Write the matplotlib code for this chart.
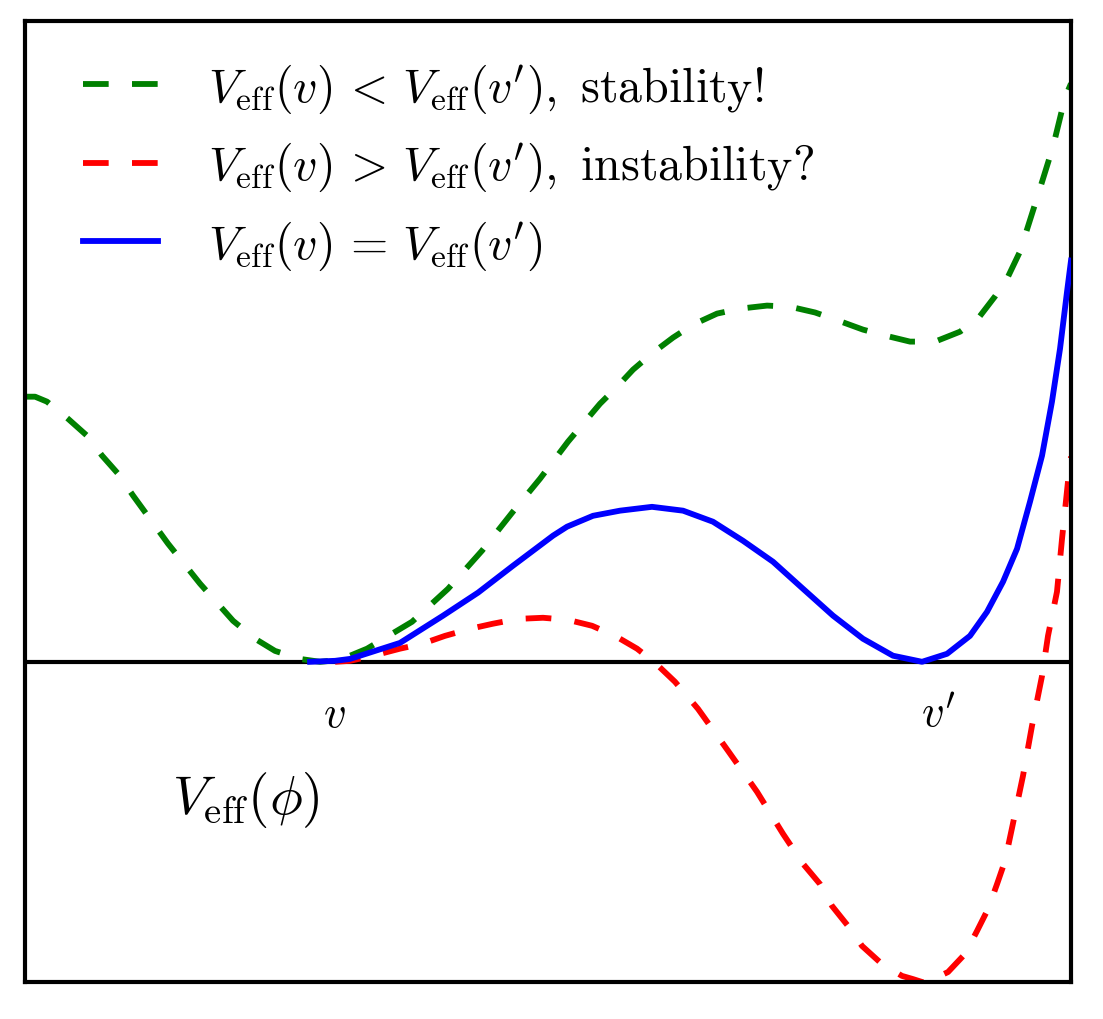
"""
有效势 V_eff(φ) 的三种情形：稳定 / 不稳定 / 简并
"""

import matplotlib
matplotlib.use('Agg')
import matplotlib.pyplot as plt

plt.rcParams['mathtext.fontset'] = 'cm'
plt.rcParams['font.family'] = ['DejaVu Serif']

# ---- 曲线数据（从图上读取，x 归一化到 [0,1]，y 以 v 处为 0） ----
x_green = [0.0000, 0.0096, 0.0210, 0.0411, 0.0593, 0.0736, 0.0889, 0.1033, 0.1367, 0.1673,
           0.1989, 0.2199, 0.2390, 0.2629, 0.2820, 0.3011, 0.3270, 0.3700, 0.4044, 0.4369,
           0.4665, 0.4924, 0.5191, 0.5497, 0.5660, 0.5813, 0.6004, 0.6195, 0.6386, 0.6616,
           0.6836, 0.7094, 0.7314, 0.7553, 0.7772, 0.8011, 0.8222, 0.8461, 0.8700, 0.8939,
           0.9111, 0.9273, 0.9398, 0.9512, 0.9685, 0.9828, 0.9943, 1.0000]
y_green = [0.828, 0.828, 0.8125, 0.759, 0.706, 0.644, 0.5875, 0.519, 0.369, 0.244,
           0.128, 0.072, 0.034, 0.009, 0.000, 0.006, 0.041, 0.125, 0.228, 0.347,
           0.469, 0.572, 0.6875, 0.806, 0.859, 0.9125, 0.9656, 1.0125, 1.053, 1.0875,
           1.103, 1.1125, 1.109, 1.091, 1.066, 1.0375, 1.019, 1.000, 1.000, 1.031,
           1.072, 1.141, 1.203, 1.281, 1.459, 1.609, 1.7625, 1.806]

x_red = [0.2964, 0.3107, 0.3327, 0.3585, 0.3795, 0.4015, 0.4254, 0.4474, 0.4713, 0.4952,
         0.5191, 0.5421, 0.5641, 0.5851, 0.6023, 0.6214, 0.6434, 0.6721, 0.6998, 0.7247,
         0.7438, 0.7600, 0.7715, 0.7868, 0.8002, 0.8193, 0.8384, 0.8489, 0.8604, 0.8824,
         0.8987, 0.9101, 0.9207, 0.9293, 0.9369, 0.9436, 0.9541, 0.9627, 0.9723, 0.9780,
         0.9866, 0.9914, 0.9971, 1.0000]
y_red = [0.000, 0.003, 0.019, 0.041, 0.056, 0.081, 0.103, 0.119, 0.134, 0.1375,
         0.131, 0.1125, 0.081, 0.041, -0.003, -0.0625, -0.147, -0.278, -0.406, -0.5375,
         -0.631, -0.694, -0.7625, -0.825, -0.8875, -0.944, -0.981, -0.991, -1.003, -0.969,
         -0.9125, -0.841, -0.772, -0.694, -0.622, -0.519, -0.356, -0.200, -0.044, 0.081,
         0.219, 0.384, 0.5625, 0.641]

x_blue = [0.2725, 0.2964, 0.3107, 0.3346, 0.3585, 0.3996, 0.4331, 0.4665, 0.5048, 0.5182,
          0.5430, 0.5688, 0.5994, 0.6291, 0.6577, 0.6864, 0.7151, 0.7438, 0.7725, 0.8011,
          0.8298, 0.8576, 0.8815, 0.9034, 0.9197, 0.9350, 0.9484, 0.9608, 0.9723, 0.9818,
          0.9895, 0.9962, 1.0000]
y_blue = [0.000, 0.003, 0.009, 0.034, 0.059, 0.144, 0.216, 0.300, 0.394, 0.422,
          0.456, 0.472, 0.484, 0.472, 0.4375, 0.378, 0.3125, 0.228, 0.144, 0.072,
          0.019, 0.000, 0.025, 0.081, 0.156, 0.250, 0.353, 0.500, 0.644, 0.8125,
          0.978, 1.156, 1.253]

labels = [r"$V_{\mathrm{eff}}(v)\,<\,V_{\mathrm{eff}}(v'),\ \mathrm{stability!}$",
          r"$V_{\mathrm{eff}}(v)\,>\,V_{\mathrm{eff}}(v'),\ \mathrm{instability?}$",
          r"$V_{\mathrm{eff}}(v)\,=\,V_{\mathrm{eff}}(v')$"]

v_pos = 0.296
vp_pos = 0.858

fig = plt.figure(figsize=(11.03, 10.20), dpi=100)
ax = fig.add_axes([0.0227, 0.0363, 0.9483, 0.9417])

lw = 4.2
dash = (0, (4.4, 4.0))
ax.axhline(0, color='black', lw=3.0, zorder=1)
ax.plot(x_green, y_green, color='green', lw=lw, linestyle=dash, label=labels[0], zorder=2)
ax.plot(x_red, y_red, color='red', lw=lw, linestyle=dash, label=labels[1], zorder=2)
ax.plot(x_blue, y_blue, color='blue', lw=lw, label=labels[2], zorder=3)

ax.set_xlim(0, 1)
ax.set_ylim(-1, 2)
ax.set_xticks([])
ax.set_yticks([])
for s in ax.spines.values():
    s.set_linewidth(3.0)

ax.legend(loc='upper left', bbox_to_anchor=(0.0555, 0.958), frameon=False, fontsize=34.5,
          handlelength=1.565, handletextpad=1.04, labelspacing=0.53,
          borderpad=0, borderaxespad=0)

ax.text(v_pos, -0.16, r'$v$', fontsize=32, ha='center', va='center')
ax.text(vp_pos + 0.015, -0.16, r"$v'$", fontsize=32, ha='center', va='center')
ax.text(0.211, -0.43, r'$V_{\mathrm{eff}}(\phi)$', fontsize=39.5, ha='center', va='center')

fig.savefig('out.png', dpi=100, facecolor='white')
